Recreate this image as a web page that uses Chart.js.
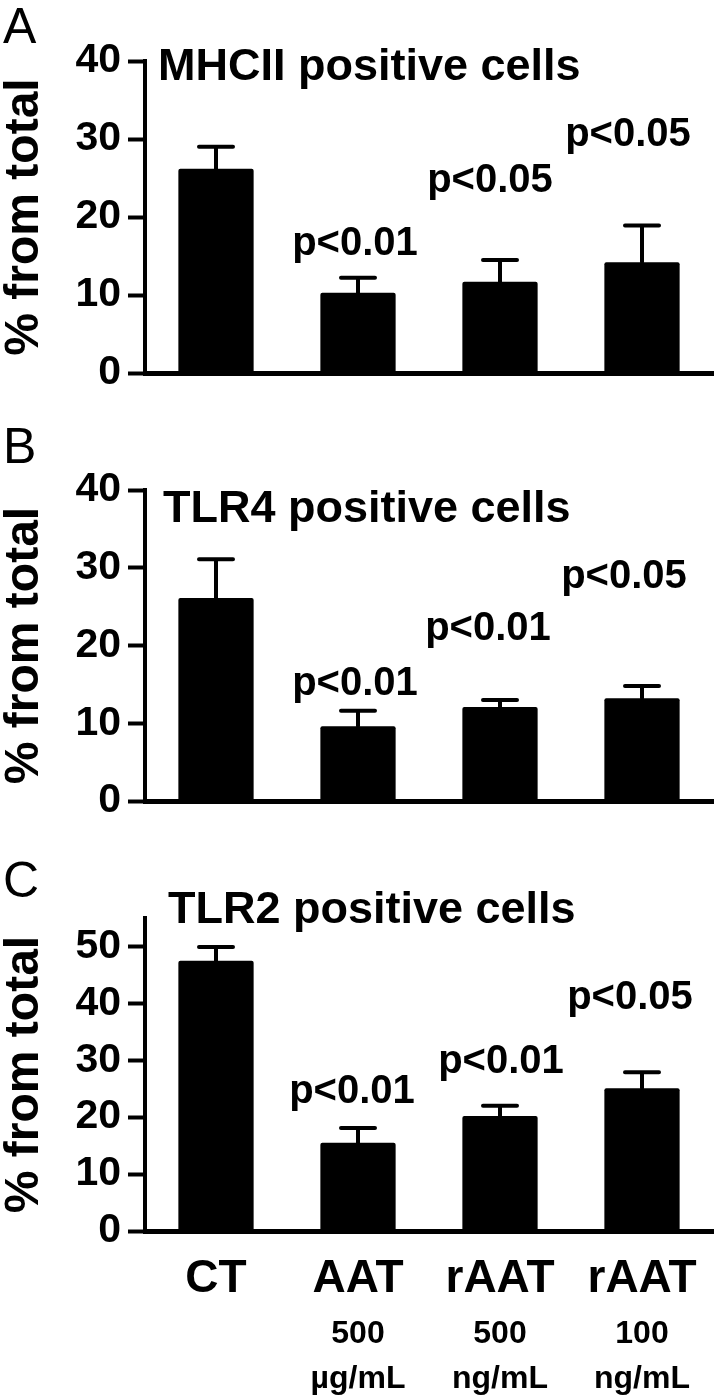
<!DOCTYPE html>
<html>
<head>
<meta charset="utf-8">
<title>MHCII, TLR4 and TLR2 positive cells</title>
<script src="https://cdn.jsdelivr.net/npm/chart.js@4.4.1/dist/chart.umd.min.js"></script>
<style>
  html, body { margin: 0; padding: 0; background: #fff; }
  canvas { position: absolute; left: 0; }
</style>
</head>
<body>
<canvas id="chart-a" width="719" height="420" style="top:0"></canvas>
<canvas id="chart-b" width="719" height="430" style="top:420px"></canvas>
<canvas id="chart-c" width="719" height="546" style="top:850px"></canvas>
<script>
// groups on the x axis
const categories = ['CT', 'AAT', 'rAAT', 'rAAT'];
const doseLabels = ['', ['500', 'µg/mL'], ['500', 'ng/mL'], ['100', 'ng/mL']];

// A - MHCII positive cells (% from total), mean and SEM
const mhcMean = [26.2, 10.3, 11.7, 14.2];
const mhcSem = [2.8, 1.9, 2.8, 4.7];
const mhcP = ['', 'p<0.01', 'p<0.05', 'p<0.05'];

// B - TLR4 positive cells
const tlr4Mean = [26.1, 9.6, 12.1, 13.2];
const tlr4Sem = [5.0, 2.0, 0.9, 1.6];
const tlr4P = ['', 'p<0.01', 'p<0.01', 'p<0.05'];

// C - TLR2 positive cells
const tlr2Mean = [47.5, 15.5, 20.2, 25.1];
const tlr2Sem = [2.4, 2.6, 1.8, 2.8];
const tlr2P = ['', 'p<0.01', 'p<0.01', 'p<0.05'];

// y tick labels
const yTicks40 = [0, 10, 20, 30, 40];
const yTicks50 = [0, 10, 20, 30, 40, 50];

const FONT = "'Liberation Sans', Arial, Helvetica, sans-serif";

// error bars, p values, panel letter and title
const decor = (cfg) => ({
  id: 'decor',
  afterDatasetsDraw(chart) {
    const ctx = chart.ctx;
    const y = chart.scales.y;
    const meta = chart.getDatasetMeta(0);
    ctx.save();
    ctx.strokeStyle = '#000';
    ctx.fillStyle = '#000';
    ctx.lineWidth = 4;
    ctx.lineCap = 'round';
    meta.data.forEach((bar, i) => {
      const top = y.getPixelForValue(cfg.mean[i] + cfg.sem[i]);
      ctx.beginPath();
      ctx.moveTo(bar.x, bar.y);
      ctx.lineTo(bar.x, top);
      ctx.moveTo(bar.x - 17, top);
      ctx.lineTo(bar.x + 17, top);
      ctx.stroke();
      if (cfg.pLabels[i]) {
        ctx.font = `bold 40px ${FONT}`;
        ctx.textAlign = 'center';
        ctx.textBaseline = 'alphabetic';
        ctx.fillText(cfg.pLabels[i], bar.x + cfg.pShift[i], top - cfg.pRaise[i]);
      }
    });
    ctx.textAlign = 'left';
    ctx.textBaseline = 'alphabetic';
    ctx.font = `50px ${FONT}`;
    ctx.fillText(cfg.letter, 3, cfg.letterY);
    ctx.font = `bold 45px ${FONT}`;
    ctx.fillText(cfg.title, cfg.titleX, cfg.titleY);
    ctx.restore();
  }
});

function makePanel(id, cfg) {
  const scales = {
    x: {
      type: 'category',
      labels: categories,
      offset: true,
      grid: { display: false },
      border: { display: true, color: '#000', width: 5 },
      ticks: {
        display: cfg.showX,
        color: '#000',
        font: { family: FONT, size: 46, weight: 'bold' },
        padding: 13,
        autoSkip: false,
        maxRotation: 0,
      },
      afterFit: (s) => { s.height = cfg.xHeight; },
    },
    y: {
      min: 0,
      max: cfg.yMax,
      afterBuildTicks: (s) => { s.ticks = cfg.yTicks.map(v => ({ value: v })); },
      grid: { drawOnChartArea: false, drawTicks: true, tickLength: 17, tickWidth: 4, tickColor: '#000' },
      border: { display: true, color: '#000', width: 4 },
      ticks: {
        color: '#000',
        font: { family: FONT, size: 41, weight: 'bold' },
        padding: 7,
      },
      title: {
        display: true,
        text: '% from total',
        color: '#000',
        font: { family: FONT, size: 48, weight: 'bold', lineHeight: 1 },
        padding: { top: 1, bottom: 0 },
      },
      afterFit: (s) => { s.width = 145; },
    },
  };
  if (cfg.showX) {
    scales.x2 = {
      type: 'category',
      position: 'bottom',
      labels: doseLabels,
      offset: true,
      grid: { display: false },
      border: { display: false },
      ticks: {
        color: '#000',
        font: { family: FONT, size: 32, weight: 'bold', lineHeight: 1.42 },
        padding: 0,
        autoSkip: false,
        maxRotation: 0,
      },
      afterFit: (s) => { s.height = cfg.x2Height; },
    };
  }

  return new Chart(document.getElementById(id), {
    type: 'bar',
    data: {
      labels: categories,
      datasets: [{
        data: cfg.mean,
        backgroundColor: '#000',
        borderWidth: 0,
        borderRadius: 2,
        categoryPercentage: 0.53,
        barPercentage: 1,
      }],
    },
    options: {
      responsive: false,
      animation: false,
      layout: { padding: { top: cfg.padTop, right: 6, bottom: 0, left: 0 } },
      plugins: { legend: { display: false }, tooltip: { enabled: false } },
      scales,
    },
    plugins: [decor(cfg)],
  });
}

makePanel('chart-a', {
  letter: 'A', letterY: 43, title: 'MHCII positive cells', titleX: 158, titleY: 80,
  mean: mhcMean, sem: mhcSem, pLabels: mhcP,
  pRaise: [0, 23, 68, 80], pShift: [0, -3, -10, -14],
  yMax: 40, yTicks: yTicks40, padTop: 61, xHeight: 47, showX: false,
});

makePanel('chart-b', {
  letter: 'B', letterY: 43, title: 'TLR4 positive cells', titleX: 163, titleY: 102,
  mean: tlr4Mean, sem: tlr4Sem, pLabels: tlr4P,
  pRaise: [0, 16, 60, 98], pShift: [0, -3, -12, -18],
  yMax: 40, yTicks: yTicks40, padTop: 70, xHeight: 49, showX: false,
});

makePanel('chart-c', {
  letter: 'C', letterY: 47, title: 'TLR2 positive cells', titleX: 168, titleY: 73,
  mean: tlr2Mean, sem: tlr2Sem, pLabels: tlr2P,
  pRaise: [0, 25, 33, 63], pShift: [0, -6, 1, -12],
  yMax: 55, yTicks: yTicks50, padTop: 68, xHeight: 72, x2Height: 93, showX: true,
});
</script>
</body>
</html>
